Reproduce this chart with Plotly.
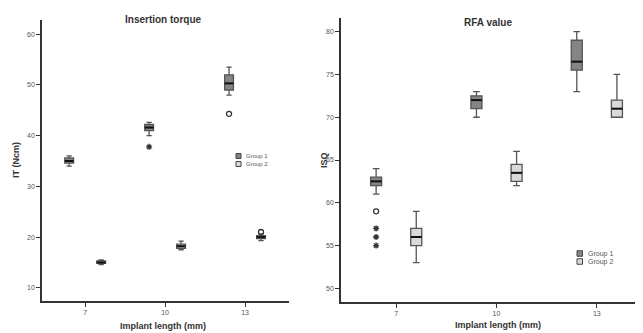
import plotly.graph_objects as go

categories = ["7", "10", "13"]
groups = ["Group 1", "Group 2"]

# Insertion torque (Ncm)
it_g1_low = [34.0, 40.0, 48.0]
it_g1_q1 = [34.6, 41.0, 49.0]
it_g1_med = [35.0, 41.6, 50.3]
it_g1_q3 = [35.6, 42.2, 52.0]
it_g1_high = [36.0, 42.6, 53.5]
it_g2_low = [14.6, 17.5, 19.3]
it_g2_q1 = [14.8, 17.8, 19.7]
it_g2_med = [15.0, 18.2, 20.0]
it_g2_q3 = [15.3, 18.6, 20.3]
it_g2_high = [15.5, 19.2, 20.6]
it_circle_cat = [2, 2]
it_circle_grp = [1, 2]
it_circle_val = [44.3, 21.0]
it_star_cat = [1]
it_star_grp = [1]
it_star_val = [37.8]

# RFA value (ISQ)
rfa_g1_low = [61.0, 70.0, 73.0]
rfa_g1_q1 = [62.0, 71.0, 75.5]
rfa_g1_med = [62.5, 72.0, 76.5]
rfa_g1_q3 = [63.0, 72.5, 79.0]
rfa_g1_high = [64.0, 73.0, 80.0]
rfa_g2_low = [53.0, 62.0, 70.0]
rfa_g2_q1 = [55.0, 62.5, 70.0]
rfa_g2_med = [56.0, 63.5, 71.0]
rfa_g2_q3 = [57.0, 64.5, 72.0]
rfa_g2_high = [59.0, 66.0, 75.0]
rfa_circle_cat = [0]
rfa_circle_grp = [1]
rfa_circle_val = [59.0]
rfa_star_cat = [0, 0, 0]
rfa_star_grp = [1, 1, 1]
rfa_star_val = [57.0, 56.0, 55.0]

OFFSET = 0.2
BOXW = 0.11
G1_FILL = "#858585"
G2_FILL = "#dadada"
EDGE = "#555555"
FONT = "Liberation Sans, Arial, sans-serif"
# the page body has an 8px margin: the figure starts at (8, 8)
OX, OY = 8, 8
W, H = 643 - OX, 333 - OY

def pos(cat, grp):
    return cat + (-OFFSET if grp == 1 else OFFSET)

fig = go.Figure()

def add_boxes(xa, ya, g1, g2):
    for grp, stats, fill in [(1, g1, G1_FILL), (2, g2, G2_FILL)]:
        lo, q1, med, q3, hi = stats
        xs = [pos(i, grp) for i in range(len(categories))]
        fig.add_trace(go.Box(
            x=xs, q1=q1, median=med, q3=q3, lowerfence=lo, upperfence=hi,
            width=BOXW, fillcolor=fill, line=dict(color=EDGE, width=1.3),
            whiskerwidth=0.6, name=groups[grp - 1], xaxis=xa, yaxis=ya,
            showlegend=False, hoverinfo="skip", boxpoints=False,
        ))
        mx, my = [], []
        for x, m in zip(xs, med):
            mx += [x - BOXW / 2, x + BOXW / 2, None]
            my += [m, m, None]
        fig.add_trace(go.Scatter(x=mx, y=my, mode="lines",
                                 line=dict(color="#111111", width=2),
                                 xaxis=xa, yaxis=ya, showlegend=False,
                                 hoverinfo="skip"))

def add_outliers(xa, ya, cats, grps, vals, symbol):
    fig.add_trace(go.Scatter(
        x=[pos(c, g) for c, g in zip(cats, grps)], y=vals, mode="markers",
        marker=dict(symbol=symbol, size=5,
                    color="#333333", line=dict(color="#333333", width=1.3)),
        xaxis=xa, yaxis=ya, showlegend=False, hoverinfo="skip"))

add_boxes("x", "y",
          (it_g1_low, it_g1_q1, it_g1_med, it_g1_q3, it_g1_high),
          (it_g2_low, it_g2_q1, it_g2_med, it_g2_q3, it_g2_high))
add_outliers("x", "y", it_circle_cat, it_circle_grp, it_circle_val, "circle-open")
add_outliers("x", "y", it_star_cat, it_star_grp, it_star_val, "asterisk-open")

add_boxes("x2", "y2",
          (rfa_g1_low, rfa_g1_q1, rfa_g1_med, rfa_g1_q3, rfa_g1_high),
          (rfa_g2_low, rfa_g2_q1, rfa_g2_med, rfa_g2_q3, rfa_g2_high))
add_outliers("x2", "y2", rfa_circle_cat, rfa_circle_grp, rfa_circle_val, "circle-open")
add_outliers("x2", "y2", rfa_star_cat, rfa_star_grp, rfa_star_val, "asterisk-open")

tickfont = dict(family=FONT, size=7, color="#555555")

axis_common = dict(showgrid=False, zeroline=False, showline=True,
                   linecolor="#333333", linewidth=1.5, ticks="outside",
                   ticklen=4, tickcolor="#333333", tickfont=tickfont,
                   automargin=False)

def px(x):
    return (x - OX) / W

def py(y):
    return 1 - (y - OY) / H

annotations = []
shapes = []

def text(t, x, y, size, bold=True, angle=0, color="#333333", xanchor="center"):
    annotations.append(dict(
        text=f"<b>{t}</b>" if bold else t, x=px(x), y=py(y), xref="paper",
        yref="paper", showarrow=False, textangle=angle, xanchor=xanchor,
        yanchor="middle", font=dict(family=FONT, size=size, color=color)))

text("Insertion torque", 163, 19, 10)
text("RFA value", 488, 22, 10)
text("Implant length (mm)", 163, 326, 9)
text("Implant length (mm)", 498, 325, 9)
text("IT (Ncm)", 16, 160, 9, angle=-90)
text("ISQ", 324, 160, 9, angle=-90)

def legend(x0, y0, size, gap, fontsize):
    for i, (g, fill) in enumerate(zip(groups, [G1_FILL, G2_FILL])):
        yc = y0 + i * gap
        shapes.append(dict(type="rect", xref="paper", yref="paper",
                           x0=px(x0), x1=px(x0 + size),
                           y0=py(yc + size / 2), y1=py(yc - size / 2),
                           fillcolor=fill, line=dict(color="#444444", width=1)))
        text(g, x0 + size + 3, yc, fontsize, bold=False, color="#555555",
             xanchor="left")

legend(236, 156, 5, 8, 6)
legend(577, 253.5, 5.5, 8, 7)

fig.update_layout(
    width=W, height=H, margin=dict(l=0, r=0, t=0, b=0),
    paper_bgcolor="white", plot_bgcolor="white", showlegend=False,
    xaxis=dict(domain=[px(42), px(289)], range=[-0.54, 2.55],
               tickvals=[0, 1, 2], ticktext=categories,
               anchor="y", **axis_common),
    yaxis=dict(domain=[py(301), py(20)], range=[7.4, 62.8],
               tickvals=[10, 20, 30, 40, 50, 60],
               anchor="x", **axis_common),
    xaxis2=dict(domain=[px(341), 1.0], range=[-0.55, 2.46],
                tickvals=[0, 1, 2], ticktext=categories,
                anchor="y2", **axis_common),
    yaxis2=dict(domain=[py(302), py(18)], range=[48.4, 81.6],
                tickvals=[50, 55, 60, 65, 70, 75, 80],
                anchor="x2", **axis_common),
    annotations=annotations,
    shapes=shapes,
)

fig.write_html("out.html")
